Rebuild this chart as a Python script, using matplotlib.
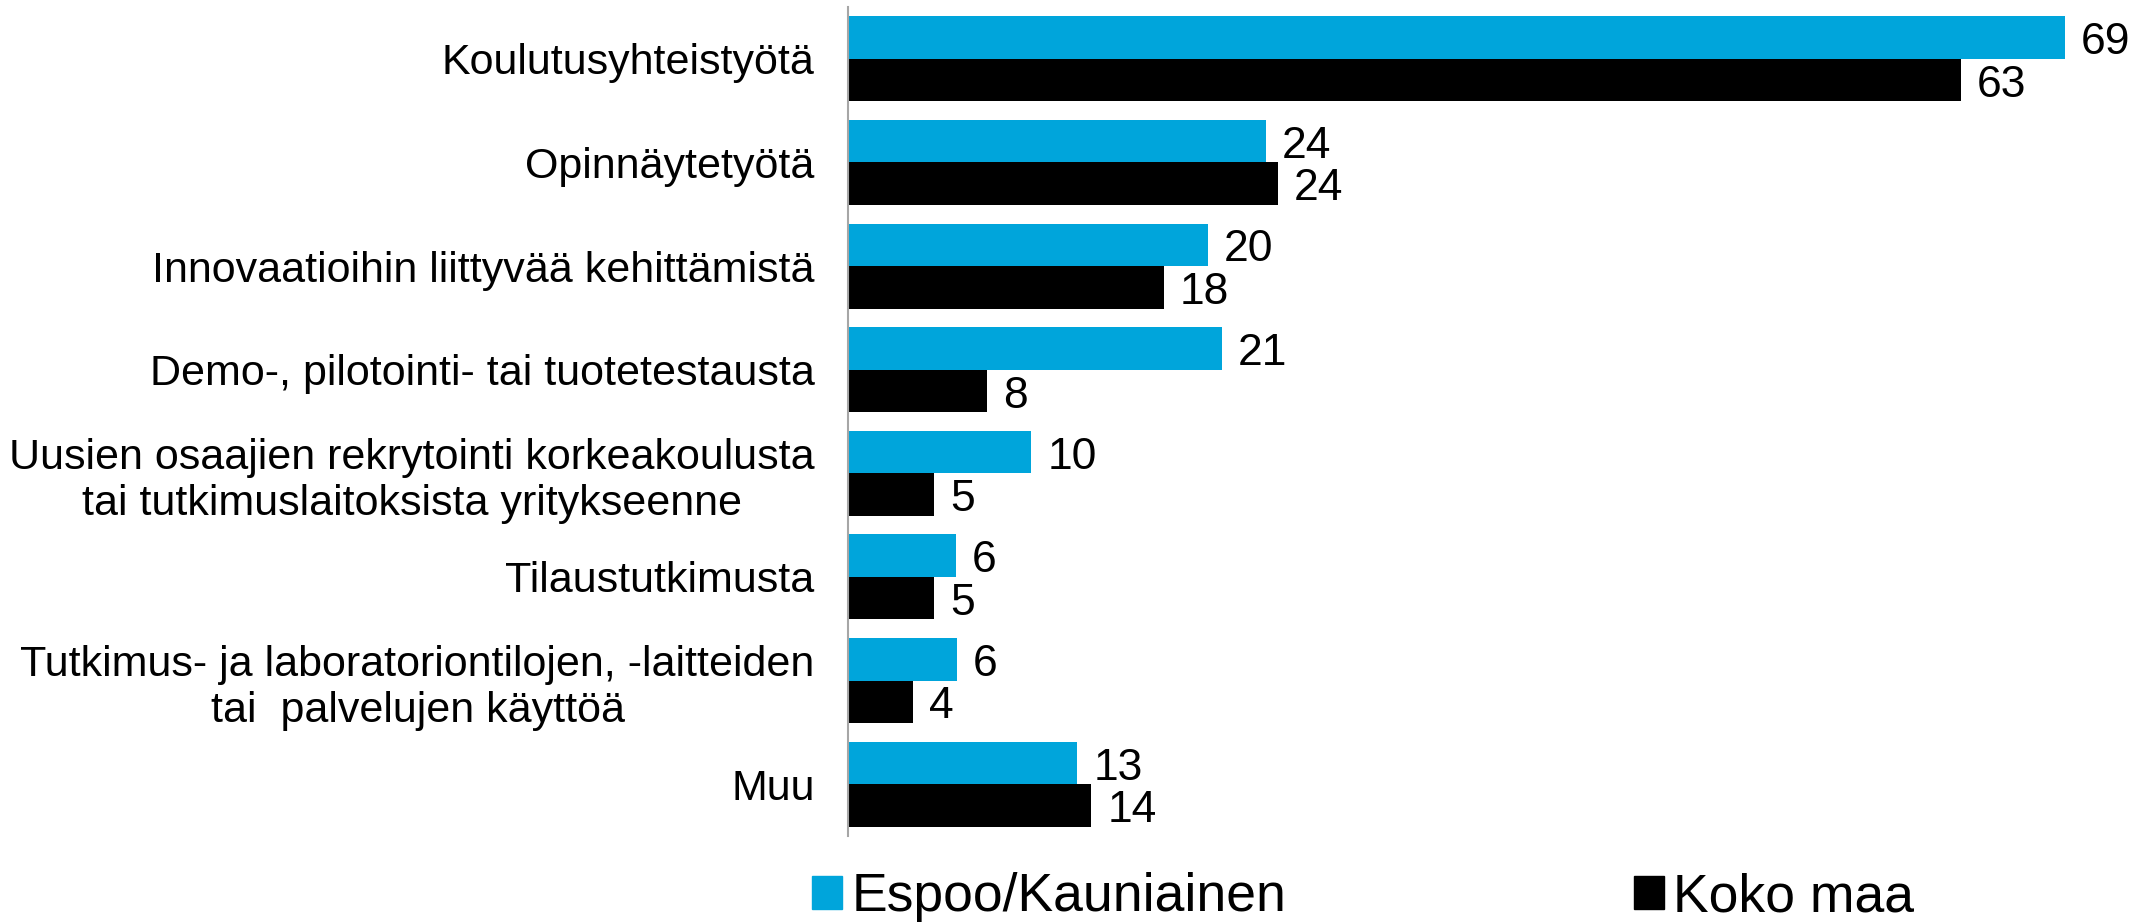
import matplotlib
matplotlib.use("Agg")
import matplotlib.pyplot as plt
from matplotlib.patches import Patch
import numpy as np

plt.rcParams['font.family'] = ['Liberation Sans', 'DejaVu Sans']

categories = [
    "Koulutusyhteistyötä",
    "Opinnäytetyötä",
    "Innovaatioihin liittyvää kehittämistä",
    "Demo-, pilotointi- tai tuotetestausta",
    "Uusien osaajien rekrytointi korkeakoulusta\ntai tutkimuslaitoksista yritykseenne",
    "Tilaustutkimusta",
    "Tutkimus- ja laboratoriontilojen, -laitteiden\ntai  palvelujen käyttöä",
    "Muu",
]
# bar lengths; labels are shown rounded
espoo = [69.0, 23.7, 20.4, 21.2, 10.4, 6.1, 6.2, 13.0]
koko_maa = [63.1, 24.4, 17.9, 7.9, 4.9, 4.9, 3.7, 13.8]
series_names = ["Espoo/Kauniainen", "Koko maa"]
colors = ["#00A5DB", "#000000"]

fig = plt.figure(figsize=(21.34, 9.23), dpi=100)
ax = fig.add_axes([0.3974, 0.0943, 0.5784, 0.8981])

y = np.arange(len(categories))
h = 0.41
ax.barh(y - h / 2, espoo, height=h, color=colors[0])
ax.barh(y + h / 2, koko_maa, height=h, color=colors[1])

for yi, v in zip(y, espoo):
    ax.text(v + 0.9, yi - h / 2 + 0.05, f"{v:.0f}", va="center", ha="left", fontsize=32)
for yi, v in zip(y, koko_maa):
    ax.text(v + 0.9, yi + h / 2 + 0.05, f"{v:.0f}", va="center", ha="left", fontsize=32)

ax.set_xlim(0, 70)
ax.set_ylim(len(categories) - 0.5, -0.5)
ax.set_yticks(y)
ax.set_yticklabels(categories, fontsize=31, multialignment="center")
ax.tick_params(axis="y", length=0, pad=24)
ax.set_xticks([])
for s in ["top", "right", "bottom"]:
    ax.spines[s].set_visible(False)
ax.spines["left"].set_color("#a6a6a6")
ax.spines["left"].set_linewidth(1.5)

handles = [Patch(color=c) for c in colors]
fig.legend(handles, series_names, loc="center", bbox_to_anchor=(0.6387, 0.028),
           ncol=2, frameon=False, fontsize=38.5, handlelength=0.57, handleheight=0.57,
           handletextpad=0.17, columnspacing=6.5, borderpad=0, borderaxespad=0)

fig.savefig("out.png", dpi=100)
